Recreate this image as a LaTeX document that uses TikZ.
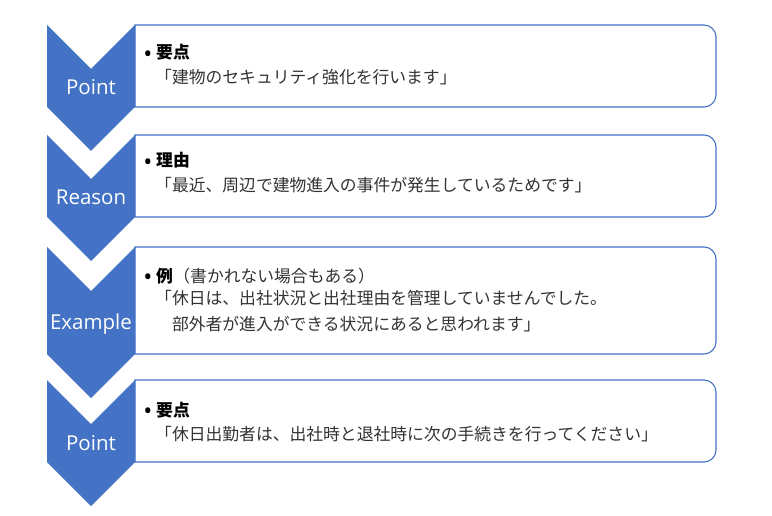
\documentclass[tikz,border=0pt]{standalone}
\usepackage{fontspec}
\newfontfamily\jpfont{Noto Sans CJK JP}
\newfontfamily\lblfont{Open Sans}
\definecolor{pptblue}{HTML}{4472C4}
\definecolor{txtgray}{HTML}{333333}
\tikzset{
  chev/.style={fill=pptblue, draw=none},
  card/.style={draw=pptblue, line width=1.1pt, fill=white},
  lbl/.style={anchor=base, inner sep=0pt, text=white, font=\lblfont\fontsize{20.5}{24}\selectfont},
  txt/.style={anchor=base west, inner sep=0pt, text=txtgray, font=\jpfont\fontsize{16.8}{20}\selectfont},
  head/.style={anchor=base west, inner sep=0pt, text=black, font=\jpfont\bfseries\fontsize{16.8}{20}\selectfont},
  bul/.style={anchor=center, inner sep=0pt, text=black, font=\lblfont\fontsize{24}{26}\selectfont}
}
\newcommand{\cardpath}[2]{%
  \draw[card] (135,#1) -- (704,#1) arc[start angle=-90, end angle=0, radius=12]
    -- (716,#2-12) arc[start angle=0, end angle=90, radius=12] -- (135,#2) -- cycle;}
\newcommand{\chevpath}[2]{%
  \fill[chev] (47,#1) -- (91,#1+44) -- (135,#1) -- (135,#2) -- (91,#2+44) -- (47,#2) -- cycle;}
\begin{document}
\begin{tikzpicture}[x=1pt,y=-1pt]
\useasboundingbox[fill=white] (0,0) rectangle (772,516);
% cards
\cardpath{25}{107}
\cardpath{135}{217}
\cardpath{247}{354}
\cardpath{380}{462}
% chevrons
\chevpath{25}{107}
\chevpath{135}{217}
\chevpath{247}{354}
\chevpath{380}{462}
% chevron labels
\node[lbl] (l1) at (91,95) {Point};
\node[lbl] (l2) at (91,205) {Reason};
\node[lbl] (l3) at (91,329) {Example};
\node[lbl] (l4) at (91,450) {Point};
% box 1
\node[bul] (b1) at (148,57) {•};
\node[head] (h1) at (156,59) {要点};
\node[txt] (t1) at (155,84) {「建物のセキュリティ強化を行います」};
% box 2
\node[bul] (b2) at (148,165) {•};
\node[head] (h2) at (156,167) {理由};
\node[txt] (t2) at (155,192) {「最近、周辺で建物進入の事件が発生しているためです」};
% box 3
\node[bul] (b3) at (148,280) {•};
\node[head] (h3) at (156,282) {例};
\node[txt, anchor=base west] (h3b) at (h3.base east) {（書かれない場合もある）};
\node[txt] (t3a) at (155,305) {「休日は、出社状況と出社理由を管理していませんでした。};
\node[txt] (t3b) at (155,330) {　部外者が進入ができる状況にあると思われます」};
% box 4
\node[bul] (b4) at (148,414) {•};
\node[head] (h4) at (156,416) {要点};
\node[txt] (t4) at (155,440) {「休日出勤者は、出社時と退社時に次の手続きを行ってください」};
\end{tikzpicture}
\end{document}
